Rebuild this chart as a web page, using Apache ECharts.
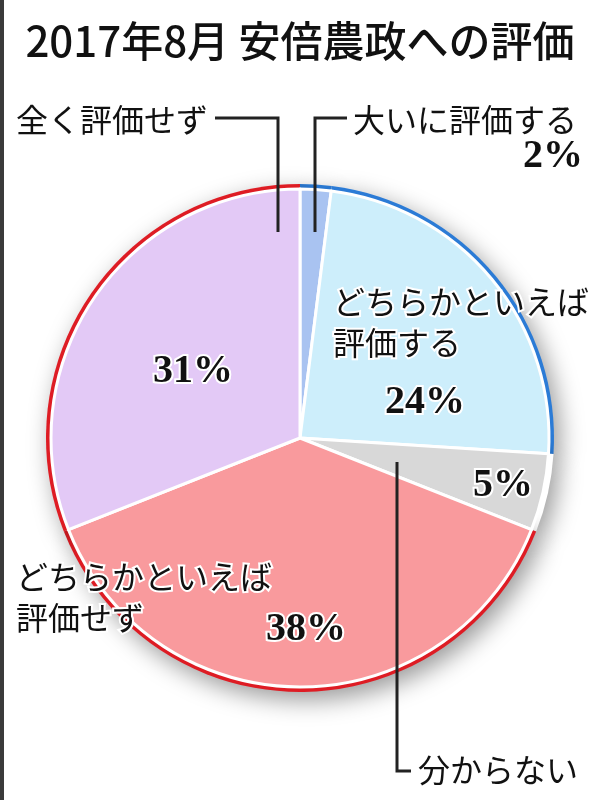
<!DOCTYPE html>
<html>
<head>
<meta charset="utf-8">
<script src="https://cdn.jsdelivr.net/npm/echarts@6/dist/echarts.min.js"></script>
<style>
  html, body { margin: 0; padding: 0; background: #fff; }
  #pie { width: 600px; height: 800px; }
</style>
</head>
<body>
<div id="pie"></div>
<script>
// 回答区分と割合(%)
const categories = ['大いに評価する', 'どちらかといえば\n評価する', '分からない', 'どちらかといえば\n評価せず', '全く評価せず'];
const values = [2, 24, 5, 38, 31];

const fillColors = ['#a9c3f1', '#cdeefb', '#d8d8d8', '#f99a9d', '#e3c9f6'];
const rimColors = ['#2b7bd6', '#2b7bd6', '#ffffff', '#de1c24', '#de1c24'];

// ラベル位置
const namePos = [
  { x: 353, y: 120, align: 'left', verticalAlign: 'middle' },
  { x: 333, y: 322, align: 'left', verticalAlign: 'middle' },
  { x: 418, y: 770, align: 'left', verticalAlign: 'middle' },
  { x: 16, y: 597, align: 'left', verticalAlign: 'middle' },
  { x: 16, y: 120, align: 'left', verticalAlign: 'middle' }
];
const valuePos = [
  { x: 583, y: 157, align: 'right', verticalAlign: 'middle' },
  { x: 425, y: 403, align: 'center', verticalAlign: 'middle' },
  { x: 503, y: 486, align: 'center', verticalAlign: 'middle' },
  { x: 306, y: 630, align: 'center', verticalAlign: 'middle' },
  { x: 193, y: 372, align: 'center', verticalAlign: 'middle' }
];

const center = [300, 438];
const jpFont = '"Noto Sans CJK JP", sans-serif';

const myChart = echarts.init(document.getElementById('pie'));

const option = {
  animation: false,
  title: {
    text: '2017年8月 安倍農政への評価',
    left: 'center',
    top: 15,
    textStyle: { fontFamily: jpFont, fontSize: 42, fontWeight: 500, color: '#111' }
  },
  graphic: [
    { type: 'rect', shape: { x: 0, y: 0, width: 4, height: 800 }, style: { fill: '#3a3a3a' } },
    { type: 'polyline', z: 20, shape: { points: [[215, 118], [278, 118], [278, 232]] }, style: { stroke: '#222', lineWidth: 3, fill: null } },
    { type: 'polyline', z: 20, shape: { points: [[347, 118], [315, 118], [315, 232]] }, style: { stroke: '#222', lineWidth: 3, fill: null } },
    { type: 'polyline', z: 20, shape: { points: [[397, 462], [397, 771], [411, 771]] }, style: { stroke: '#222', lineWidth: 3, fill: null } }
  ],
  series: [
    {
      // 外周の縁取り
      type: 'pie',
      center,
      radius: 254,
      startAngle: 90,
      silent: true,
      z: 1,
      label: { show: false },
      labelLine: { show: false },
      itemStyle: { shadowBlur: 24, shadowOffsetX: 6, shadowOffsetY: 8, shadowColor: 'rgba(0,0,0,0.4)' },
      data: values.map((v, i) => ({ value: v, name: categories[i], itemStyle: { color: rimColors[i] } }))
    },
    {
      type: 'pie',
      center,
      radius: 249,
      startAngle: 90,
      silent: true,
      z: 2,
      itemStyle: { borderColor: '#fff', borderWidth: 3 },
      labelLine: { show: false },
      label: {
        show: true,
        position: 'inside',
        overflow: 'none',
        formatter: '{c}%',
        fontFamily: '"Liberation Serif", serif',
        fontWeight: 'bold',
        fontSize: 40,
        color: '#111',
        textBorderColor: '#fff',
        textBorderWidth: 4
      },
      labelLayout: (params) => valuePos[params.dataIndex],
      data: values.map((v, i) => ({ value: v, name: categories[i], itemStyle: { color: fillColors[i] } }))
    },
    {
      // 区分名ラベル
      type: 'pie',
      center,
      radius: 249,
      startAngle: 90,
      silent: true,
      z: 5,
      itemStyle: { color: 'transparent' },
      labelLine: { show: false },
      label: {
        show: true,
        position: 'inside',
        overflow: 'none',
        formatter: '{b}',
        fontFamily: jpFont,
        fontSize: 32,
        lineHeight: 41,
        color: '#111',
        textBorderColor: '#fff',
        textBorderWidth: 4
      },
      labelLayout: (params) => namePos[params.dataIndex],
      data: values.map((v, i) => ({ value: v, name: categories[i] }))
    }
  ]
};

myChart.setOption(option);
</script>
</body>
</html>
